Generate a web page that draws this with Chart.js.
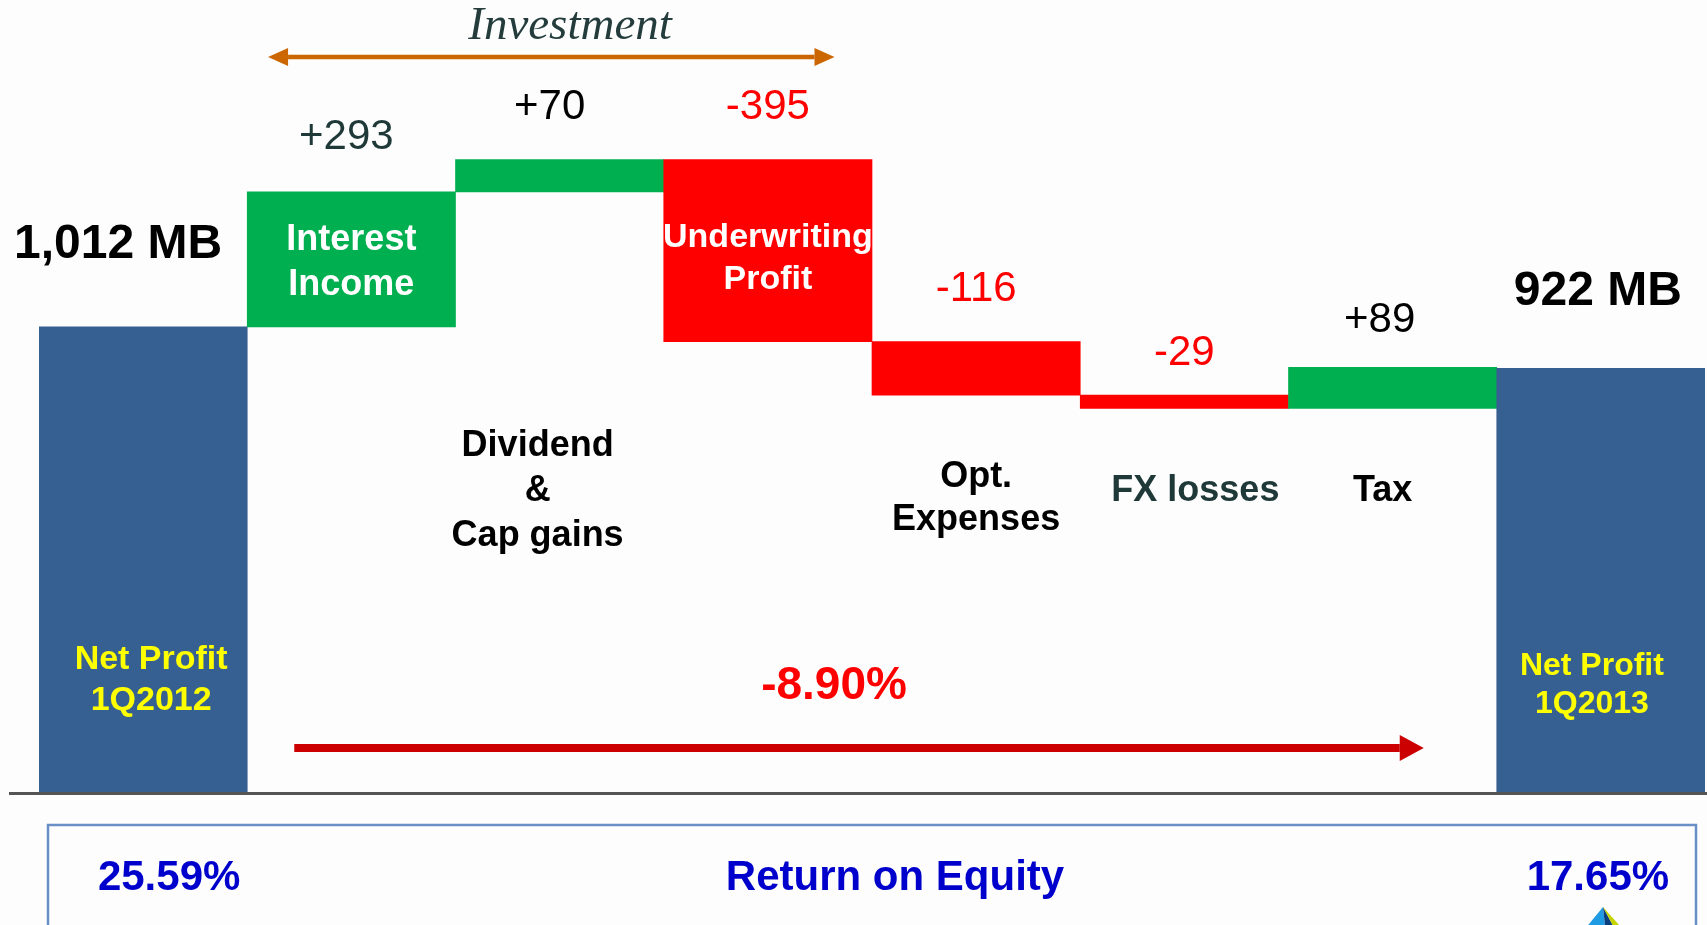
<!DOCTYPE html>
<html>
<head>
<meta charset="utf-8">
<title>Net Profit Bridge 1Q2012 - 1Q2013</title>
<script src="https://cdn.jsdelivr.net/npm/chart.js@4.4.1/dist/chart.umd.min.js"></script>
<style>
  html, body { margin: 0; padding: 0; background: #fdfdfd; overflow: hidden; }
  #wrap { position: relative; width: 1707px; height: 925px; }
</style>
</head>
<body>
<div id="wrap"><canvas id="bridge"></canvas></div>
<script>
// Data
const categories = ['Net Profit 1Q2012', 'Interest Income', 'Dividend & Cap gains', 'Underwriting Profit', 'Opt. Expenses', 'FX losses', 'Tax', 'Net Profit 1Q2013'];
const startValue = 1012;
const changes = [293, 70, -395, -116, -29, 89];
const endValue = 922;
const changeLabels = ['+293', '+70', '-395', '-116', '-29', '+89'];
const totalLabels = ['1,012 MB', '922 MB'];
const growthLabel = '-8.90%';
const roeLabels = ['25.59%', '17.65%'];
const roeTitle = 'Return on Equity';
const groupTitle = 'Investment';

// Colours
const blue = '#376092';
const green = '#00b050';
const red = '#ff0000';
const slate = '#1f3838';

// floating bars [low, high] built from the running total
const bars = [[0, startValue]];
let running = startValue;
changes.forEach(c => {
    bars.push([running, running + c]);
    running += c;
});
bars.push([0, endValue]);

const barColors = bars.map((b, i) => {
    if (i === 0 || i === bars.length - 1) return blue;
    return changes[i - 1] >= 0 ? green : red;
});

const FONT = '"Liberation Sans", Arial, sans-serif';

function text(ctx, str, x, y, size, color, bold, align) {
    ctx.font = (bold ? 'bold ' : '') + size + 'px ' + FONT;
    ctx.fillStyle = color;
    ctx.textAlign = align || 'center';
    ctx.textBaseline = 'middle';
    ctx.fillText(str, x, y);
}

function arrowLine(ctx, x1, x2, y, width, head, halfH, color, both) {
    ctx.fillStyle = color;
    ctx.fillRect(x1 + (both ? head : 0), y - width / 2, x2 - x1 - head - (both ? head : 0), width);
    ctx.beginPath();
    ctx.moveTo(x2, y);
    ctx.lineTo(x2 - head, y - halfH);
    ctx.lineTo(x2 - head, y + halfH);
    ctx.closePath();
    ctx.fill();
    if (both) {
        ctx.beginPath();
        ctx.moveTo(x1, y);
        ctx.lineTo(x1 + head, y - halfH);
        ctx.lineTo(x1 + head, y + halfH);
        ctx.closePath();
        ctx.fill();
    }
}

// label nudges for each step bar (lift above the bar top, x shift)
const valueLift = [55, 52, 52, 52, 42, 47];
const valueShift = [-5, -10, 0, 0, 0, -13];

const annotations = {
    id: 'annotations',
    afterDatasetsDraw(chart) {
        const ctx = chart.ctx;
        const area = chart.chartArea;
        const els = chart.getDatasetMeta(0).data;
        const w = els[1].width;
        const top = i => Math.min(els[i].y, els[i].base);
        ctx.save();

        // baseline
        ctx.fillStyle = '#555555';
        ctx.fillRect(9, area.bottom - 1, chart.width - 9, 3);

        // investment bracket
        const ax1 = els[1].x - 0.4 * w;
        const ax2 = els[3].x + 0.32 * w;
        arrowLine(ctx, ax1, ax2, 57, 4.5, 20, 9, '#cc6600', true);
        ctx.font = 'italic 47px "Liberation Serif", "Times New Roman", serif';
        ctx.fillStyle = '#243c3c';
        ctx.textAlign = 'center';
        ctx.textBaseline = 'middle';
        ctx.fillText(groupTitle, (ax1 + ax2) / 2 + 0.09 * w, 27);

        // step values
        changeLabels.forEach((lab, k) => {
            const i = k + 1;
            const col = changes[k] < 0 ? red : (k === 0 ? slate : '#000000');
            text(ctx, lab, els[i].x + valueShift[k], top(i) - valueLift[k], 42, col, false);
        });

        // totals
        text(ctx, totalLabels[0], els[0].x - 25, top(0) - 82, 48, '#000000', true);
        text(ctx, totalLabels[1], els[7].x - 3, top(7) - 77, 48, '#000000', true);

        // labels inside bars
        text(ctx, 'Interest', els[1].x, 240, 36, '#ffffff', true);
        text(ctx, 'Income', els[1].x, 285, 36, '#ffffff', true);
        text(ctx, 'Underwriting', els[3].x, 238, 34, '#ffffff', true);
        text(ctx, 'Profit', els[3].x, 280, 34, '#ffffff', true);
        text(ctx, 'Net Profit', els[0].x + 8, 660, 34, '#ffff00', true);
        text(ctx, '1Q2012', els[0].x + 8, 701, 34, '#ffff00', true);
        text(ctx, 'Net Profit', els[7].x - 9, 666, 32, '#ffff00', true);
        text(ctx, '1Q2013', els[7].x - 9, 704, 32, '#ffff00', true);

        // labels under step bars
        text(ctx, 'Dividend', els[2].x - 22, 446, 36, '#000000', true);
        text(ctx, '&', els[2].x - 22, 491, 36, '#000000', true);
        text(ctx, 'Cap gains', els[2].x - 22, 536, 36, '#000000', true);
        text(ctx, 'Opt.', els[4].x, 477, 36, '#000000', true);
        text(ctx, 'Expenses', els[4].x, 520, 36, '#000000', true);
        text(ctx, 'FX losses', els[5].x + 11, 491, 36, slate, true);
        text(ctx, 'Tax', els[6].x - 10, 491, 36, '#000000', true);

        // overall change arrow
        const rx1 = els[0].x + w / 2 + 47;
        const rx2 = els[7].x - w / 2 - 73;
        arrowLine(ctx, rx1, rx2, 748, 8, 24, 13, '#cc0000', false);
        text(ctx, growthLabel, (rx1 + rx2) / 2 - 25, 686, 46, red, true);

        // return on equity box
        ctx.strokeStyle = '#6a8fc6';
        ctx.lineWidth = 2.5;
        ctx.beginPath();
        ctx.moveTo(48, chart.height + 5);
        ctx.lineTo(48, 825);
        ctx.lineTo(1696, 825);
        ctx.lineTo(1696, chart.height + 5);
        ctx.stroke();
        text(ctx, roeLabels[0], els[0].x + 26, 878, 42, '#0000cc', true);
        text(ctx, roeTitle, 895, 878, 42, '#0000cc', true);
        text(ctx, roeLabels[1], els[7].x - 3, 878, 42, '#0000cc', true);

        // small pyramid logo
        ctx.fillStyle = '#1e9be3';
        ctx.beginPath();
        ctx.moveTo(1603, 907); ctx.lineTo(1580, 935); ctx.lineTo(1606, 935); ctx.closePath(); ctx.fill();
        ctx.fillStyle = '#0b3f7e';
        ctx.beginPath();
        ctx.moveTo(1603, 907); ctx.lineTo(1606, 935); ctx.lineTo(1618, 935); ctx.closePath(); ctx.fill();
        ctx.fillStyle = '#c5d400';
        ctx.beginPath();
        ctx.moveTo(1603, 907); ctx.lineTo(1618, 935); ctx.lineTo(1628, 935); ctx.closePath(); ctx.fill();

        ctx.restore();
    }
};

new Chart(document.getElementById('bridge'), {
    type: 'bar',
    data: {
        labels: categories,
        datasets: [{
            data: bars,
            backgroundColor: barColors,
            borderWidth: 0,
            barPercentage: 1,
            categoryPercentage: 1
        }]
    },
    options: {
        responsive: true,
        maintainAspectRatio: false,
        animation: false,
        layout: { padding: { left: 39, right: 2, top: 10, bottom: 132 } },
        plugins: {
            legend: { display: false },
            tooltip: { enabled: false }
        },
        scales: {
            x: { display: false },
            y: { display: false, min: 0, max: 1700 }
        }
    },
    plugins: [annotations]
});
</script>
</body>
</html>
